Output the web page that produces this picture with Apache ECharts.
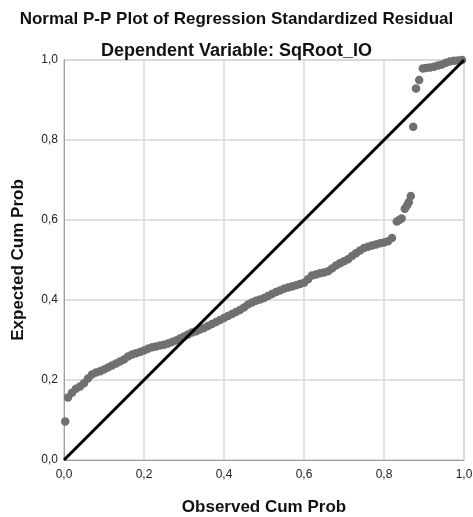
<!DOCTYPE html>
<html>
<head>
<meta charset="utf-8">
<script src="https://cdn.jsdelivr.net/npm/echarts@6/dist/echarts.min.js"></script>
<style>html,body{margin:0;padding:0;background:#fff;}#c{width:473px;height:517px;}</style>
</head>
<body>
<div id="c"></div>
<script>
var titleText = "Normal P-P Plot of Regression Standardized Residual";
var subtitleText = "Dependent Variable: SqRoot_IO";
var xName = "Observed Cum Prob";
var yName = "Expected Cum Prob";
var tickValues = [0, 0.2, 0.4, 0.6, 0.8, 1.0];

var observed = [0.003,
 0.01,0.02,0.03,0.04,0.05,0.06,0.07,0.08,0.09,0.10,
 0.11,0.12,0.13,0.14,0.15,0.16,0.17,0.18,0.19,0.20,
 0.21,0.22,0.23,0.24,0.25,0.26,0.27,0.28,0.29,0.30,
 0.31,0.32,0.33,0.34,0.35,0.36,0.37,0.38,0.39,0.40,
 0.41,0.42,0.43,0.44,0.45,0.46,0.47,0.48,0.49,0.50,
 0.51,0.52,0.53,0.54,0.55,0.56,0.57,0.58,0.59,0.60,
 0.61,0.62,0.63,0.64,0.65,0.66,0.67,0.68,0.69,0.70,
 0.71,0.72,0.73,0.74,0.75,0.76,0.77,0.78,0.79,0.80,
 0.81,0.82,
 0.832,0.838,0.844,0.852,0.858,0.862,0.867,0.873,0.880,0.888,
 0.897,0.905,0.915,0.925,0.935,0.945,0.955,0.965,0.975,0.985,0.995];
var expected = [0.096,
 0.156,0.168,0.178,0.184,0.192,0.204,0.214,0.219,0.222,0.226,
 0.231,0.236,0.241,0.246,0.251,0.259,0.264,0.267,0.270,0.274,
 0.278,0.282,0.284,0.286,0.288,0.291,0.295,0.299,0.304,0.309,
 0.314,0.319,0.322,0.326,0.330,0.335,0.340,0.345,0.350,0.355,
 0.360,0.365,0.370,0.375,0.381,0.389,0.394,0.398,0.401,0.405,
 0.410,0.415,0.420,0.424,0.428,0.431,0.434,0.437,0.440,0.443,
 0.452,0.461,0.464,0.467,0.469,0.472,0.479,0.486,0.492,0.497,
 0.502,0.510,0.517,0.524,0.530,0.533,0.536,0.539,0.542,0.544,
 0.547,0.555,
 0.596,0.600,0.604,0.628,0.637,0.645,0.660,0.833,0.929,0.950,
 0.979,0.980,0.981,0.983,0.986,0.989,0.993,0.996,0.998,0.999,1.000];
var refLine = [[0, 0], [1, 1]];

var pts = observed.map(function(x, i){ return [x, expected[i]]; });
function fmt(v){ return v.toFixed(1).replace('.', ','); }
var FF = 'Liberation Sans, Arial, sans-serif';

var chart = echarts.init(document.getElementById('c'), null, {renderer:'canvas'});
chart.setOption({
  animation: false,
  backgroundColor: '#ffffff',
  title: [
    {text: titleText, left: 'center', top: 6,
     textStyle: {fontFamily: FF, fontSize: 17, fontWeight: 'bold', color: '#111'}},
    {text: subtitleText, left: 'center', top: 37,
     textStyle: {fontFamily: FF, fontSize: 18, fontWeight: 'bold', color: '#111'}}
  ],
  grid: {left: 64, right: 9, top: 60, bottom: 57, outerBoundsMode: 'none', containLabel: false,
         show: true, borderColor: '#c8c8c8', borderWidth: 1, backgroundColor: 'transparent'},
  xAxis: {
    type: 'value', min: 0, max: 1, interval: 0.2,
    name: xName, nameLocation: 'middle', nameGap: 39,
    nameTextStyle: {fontFamily: FF, fontSize: 17, fontWeight: 'bold', color: '#111'},
    axisLine: {show: true, lineStyle: {color: '#a0a0a0', width: 1}},
    axisTick: {show: false},
    axisLabel: {formatter: fmt, fontFamily: FF, fontSize: 12, color: '#222', margin: 9},
    splitLine: {show: true, lineStyle: {color: '#d6d6d6', width: 1.5}}
  },
  yAxis: {
    type: 'value', min: 0, max: 1, interval: 0.2,
    name: yName, nameLocation: 'middle', nameGap: 37,
    nameTextStyle: {fontFamily: FF, fontSize: 17, fontWeight: 'bold', color: '#111'},
    axisLine: {show: true, lineStyle: {color: '#a0a0a0', width: 1}},
    axisTick: {show: false},
    axisLabel: {formatter: fmt, fontFamily: FF, fontSize: 12, color: '#222', margin: 6},
    splitLine: {show: true, lineStyle: {color: '#d6d6d6', width: 1.5}}
  },
  series: [
    {type: 'line', data: refLine, symbol: 'none', lineStyle: {color: '#000', width: 3}, z: 3, silent: true},
    {type: 'scatter', data: pts, symbol: 'circle', symbolSize: 8.5, itemStyle: {color: '#707070', opacity: 1}, z: 2}
  ]
});
</script>
</body>
</html>
